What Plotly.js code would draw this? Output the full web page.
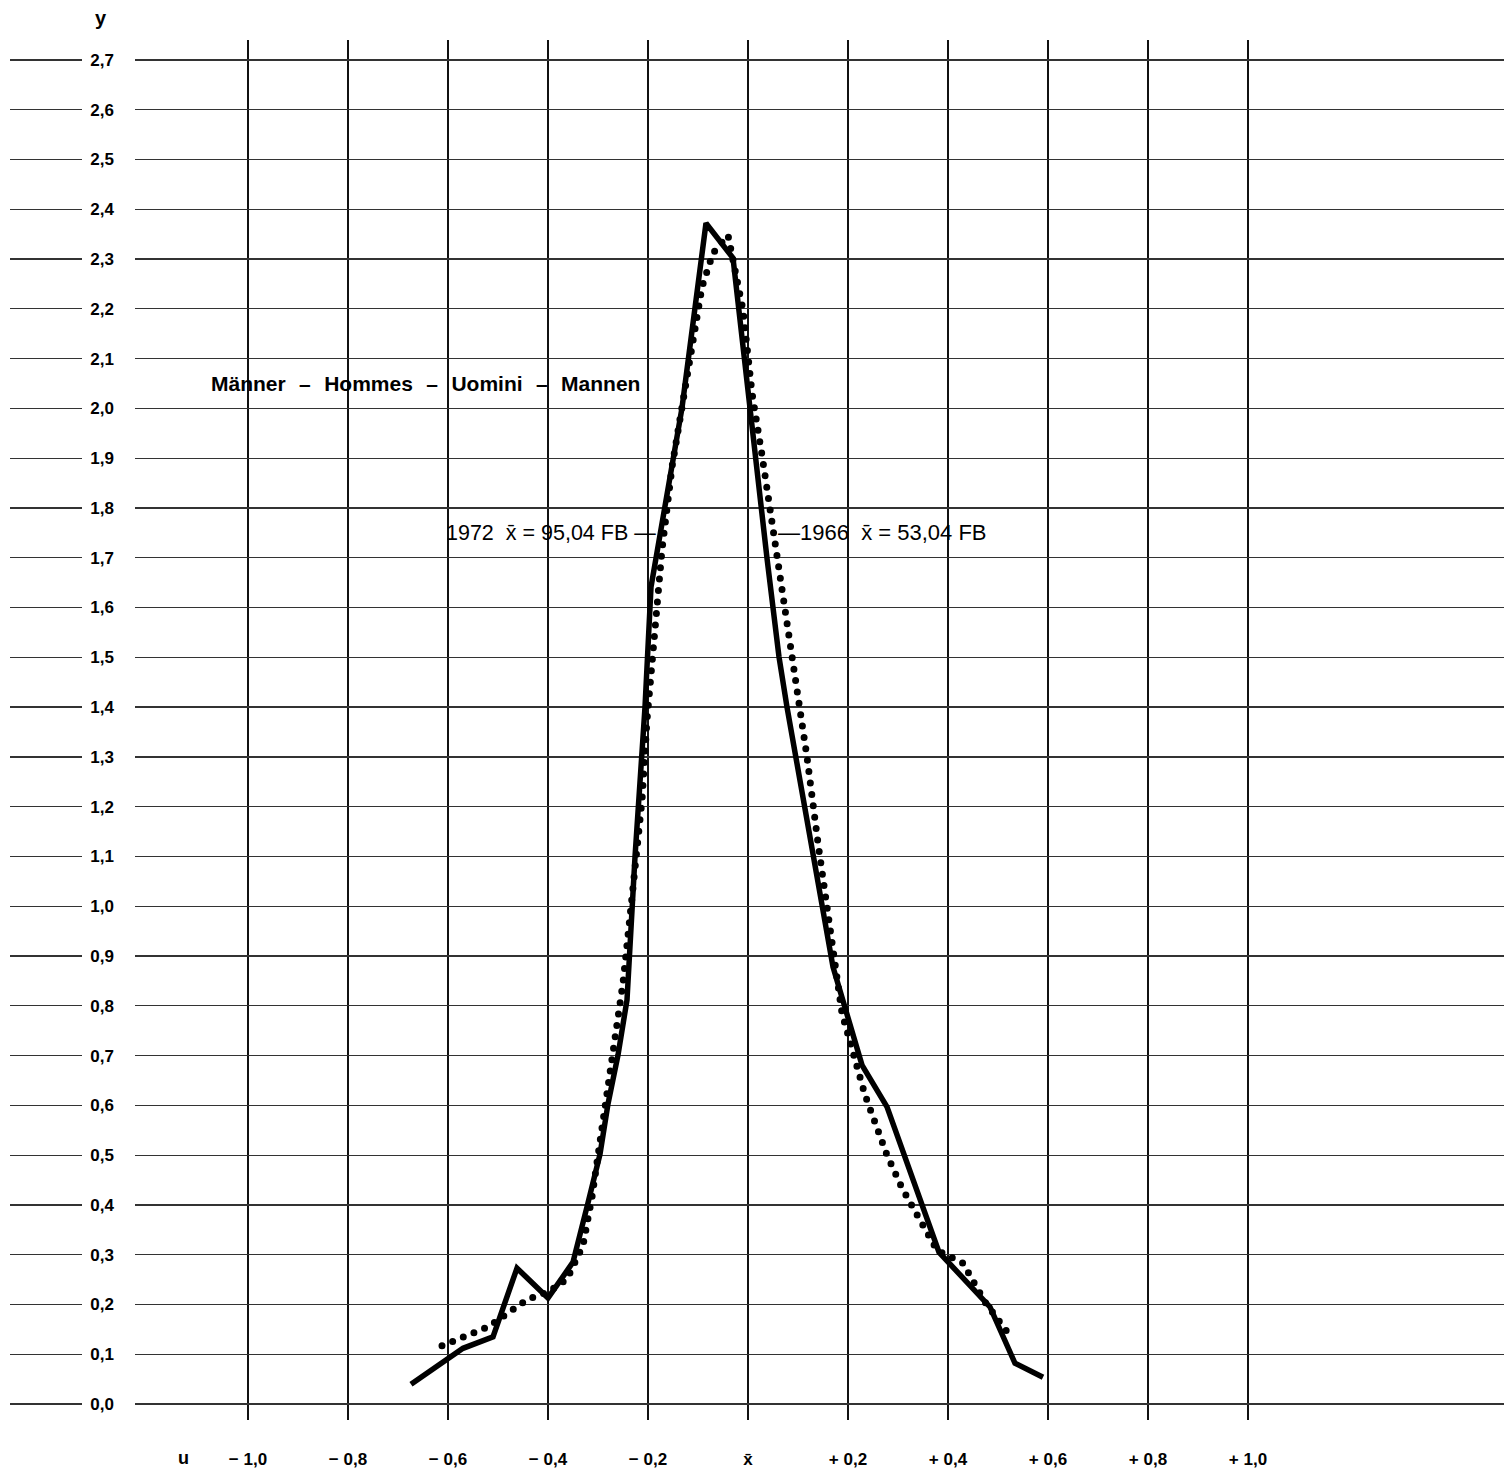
<!DOCTYPE html>
<html>
<head>
<meta charset="utf-8">
<script src="https://cdn.plot.ly/plotly-3.0.1.min.js"></script>
<style>body{margin:0;background:#fff}#chart{width:1504px;height:1469px}</style>
</head>
<body>
<div id="chart"></div>
<script>
// 1972 (solid line): u = relative deviation, y = density
const u1972 = [-0.674,-0.570,-0.510,-0.462,-0.400,-0.350,-0.320,-0.296,-0.280,-0.260,-0.242,-0.226,-0.206,-0.194,-0.132,-0.084,-0.030,0.014,0.038,0.062,0.078,0.170,0.228,0.278,0.382,0.484,0.534,0.590];
const y1972 = [0.040,0.112,0.135,0.273,0.213,0.285,0.404,0.502,0.603,0.701,0.812,1.099,1.400,1.641,2.001,2.372,2.302,1.900,1.699,1.501,1.400,0.878,0.681,0.597,0.305,0.195,0.082,0.054];
// 1966 (dotted line)
const u1966 = [-0.612,-0.520,-0.440,-0.400,-0.362,-0.330,-0.312,-0.280,-0.260,-0.250,-0.232,-0.212,-0.202,-0.186,-0.172,-0.152,-0.132,-0.112,-0.092,-0.070,-0.040,-0.010,0.008,0.028,0.054,0.088,0.118,0.140,0.164,0.188,0.234,0.278,0.308,0.378,0.430,0.474,0.520];
const y1966 = [0.117,0.155,0.211,0.225,0.251,0.319,0.416,0.631,0.777,0.846,1.018,1.213,1.374,1.569,1.716,1.882,2.003,2.141,2.244,2.312,2.348,2.198,2.031,1.906,1.736,1.501,1.300,1.127,0.958,0.785,0.621,0.500,0.434,0.309,0.283,0.205,0.143];
// ticks
const xTickVals = [-1.0,-0.8,-0.6,-0.4,-0.2,0,0.2,0.4,0.6,0.8,1.0];
const xTickText = ['\u2212 1,0','\u2212 0,8','\u2212 0,6','\u2212 0,4','\u2212 0,2','x\u0304','+ 0,2','+ 0,4','+ 0,6','+ 0,8','+ 1,0'];
const yTickVals = [0,0.1,0.2,0.3,0.4,0.5,0.6,0.7,0.8,0.9,1.0,1.1,1.2,1.3,1.4,1.5,1.6,1.7,1.8,1.9,2.0,2.1,2.2,2.3,2.4,2.5,2.6,2.7];
const yTickText = yTickVals.map(v => v.toFixed(1).replace('.', ','));

const W = 1504;
const FONT = 'Liberation Sans, Arial, sans-serif';
const SEP = '\u200A  \u2013  \u200A';

const traces = [
  {x: u1972, y: y1972, type: 'scatter', mode: 'lines', line: {color: '#000', width: 5.5}, hoverinfo: 'skip', showlegend: false},
  {x: u1966, y: y1966, type: 'scatter', mode: 'lines', line: {color: '#000', width: 7, dash: '0px,11.5px'}, hoverinfo: 'skip', showlegend: false},
  {x: [], y: [], xaxis: 'x2', yaxis: 'y', type: 'scatter', mode: 'lines', showlegend: false}
];

const layout = {
  width: 1504, height: 1469,
  margin: {l: 0, r: 0, t: 40, b: 49},
  paper_bgcolor: '#fff', plot_bgcolor: 'rgba(0,0,0,0)',
  font: {family: FONT, color: '#000'},
  showlegend: false,
  xaxis: {
    domain: [135 / W, 1], range: [-1.226, 1.512],
    tickvals: xTickVals, ticktext: xTickText,
    showgrid: true, gridcolor: '#111', gridwidth: 1.5,
    zeroline: false, showline: false, ticks: '',
    ticklabelstandoff: 27,
    tickfont: {family: FONT, size: 17, color: '#000', weight: 'bold'}
  },
  xaxis2: {
    domain: [10 / W, 82 / W], range: [0, 1], anchor: 'y',
    showgrid: false, zeroline: false, showline: false, showticklabels: false, ticks: ''
  },
  yaxis: {
    range: [-0.032, 2.740],
    tickvals: yTickVals, ticktext: yTickText,
    showgrid: true, gridcolor: '#333', gridwidth: 1.3,
    zeroline: false, showline: false, ticks: '',
    ticklabelstandoff: 20,
    tickfont: {family: FONT, size: 17, color: '#000', weight: 'bold'}
  },
  annotations: [
    {text: '<b>y</b>', xref: 'paper', yref: 'paper', x: 101 / W, y: 1, xanchor: 'center', yanchor: 'middle', yshift: 22, showarrow: false, font: {size: 20, family: FONT}},
    {text: '<b>u</b>', xref: 'paper', yref: 'y', x: 183 / W, y: -0.032, xanchor: 'center', yanchor: 'middle', yshift: -38, showarrow: false, font: {size: 18, family: FONT}},
    {text: '<b>Männer' + SEP + 'Hommes' + SEP + 'Uomini' + SEP + 'Mannen</b>', xref: 'paper', yref: 'y', x: 209 / W, y: 2.05, xanchor: 'left', yanchor: 'middle', showarrow: false, font: {size: 21, family: FONT}},
    {text: '1972  x\u0304 = 95,04 FB \u2014', xref: 'paper', yref: 'y', x: 658 / W, y: 1.75, xanchor: 'right', yanchor: 'middle', showarrow: false, font: {size: 21.5, family: FONT}},
    {text: '\u20141966  x\u0304 = 53,04 FB', xref: 'paper', yref: 'y', x: 776 / W, y: 1.75, xanchor: 'left', yanchor: 'middle', showarrow: false, font: {size: 22, family: FONT}}
  ]
};

Plotly.newPlot('chart', traces, layout, {staticPlot: true}).then(function () {
  const paths = document.querySelectorAll('.scatterlayer .trace path.js-line');
  if (paths.length > 1) {
    paths[1].style.strokeLinecap = 'round';
  }
});
</script>
</body>
</html>
